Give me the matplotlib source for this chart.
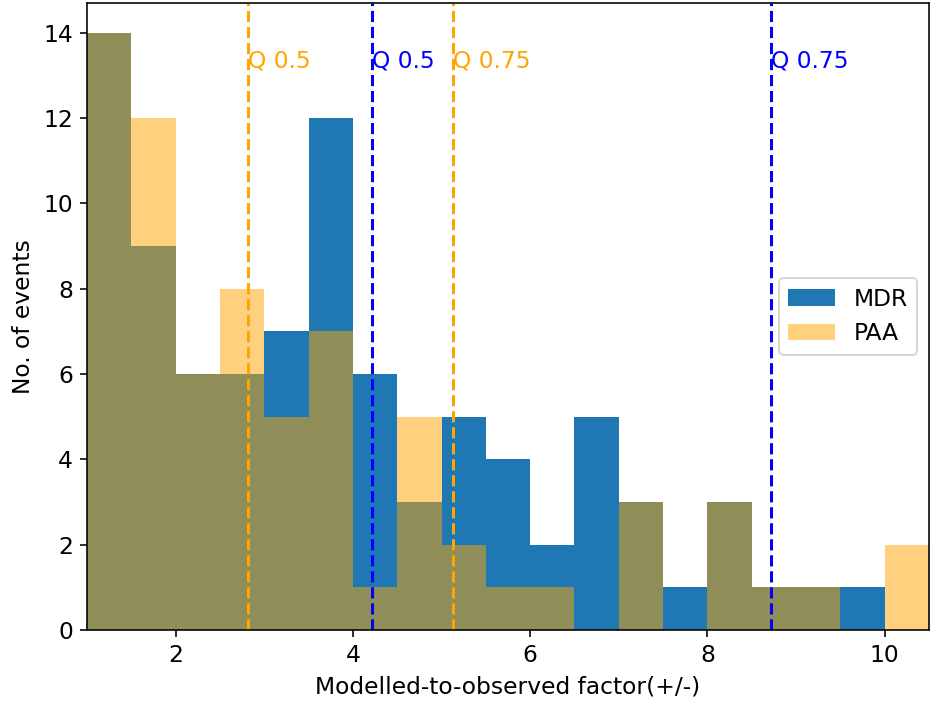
import numpy as np
import matplotlib
matplotlib.use("Agg")
import matplotlib.pyplot as plt

plt.rcParams["font.size"] = 11.6

# histogram bins (width 0.5) and counts
bin_edges = np.arange(1.0, 10.51, 0.5)
mdr_counts = [14, 9, 6, 6, 7, 12, 6, 3, 5, 4, 2, 5, 3, 1, 3, 1, 1, 1, 0]
paa_counts = [14, 12, 6, 8, 5, 7, 1, 5, 2, 1, 1, 0, 3, 0, 3, 1, 1, 0, 2]

# quantile lines
mdr_q = [4.22, 8.715]
paa_q = [2.816, 5.127]
q_labels = ["Q 0.5", "Q 0.75"]

fig = plt.figure(figsize=(930 / 145, 705 / 145), dpi=145)
ax = fig.add_axes([0.0935, 0.1064, 0.9055, 0.8893])

centers = bin_edges[:-1] + 0.25
ax.hist(centers, bins=bin_edges, weights=mdr_counts, color="C0", label="MDR")
ax.hist(centers, bins=bin_edges, weights=paa_counts, color="orange", alpha=0.5, label="PAA")

for q, lab in zip(paa_q, q_labels):
    ax.axvline(q, color="orange", linestyle="--")
    ax.text(q, 13.2, lab, color="orange")
for q, lab in zip(mdr_q, q_labels):
    ax.axvline(q, color="blue", linestyle="--")
    ax.text(q, 13.2, lab, color="blue")

ax.set_xlim(1, 10.5)
ax.set_xlabel("Modelled-to-observed factor(+/-)")
ax.set_ylabel("No. of events")
ax.legend(loc="center right")

fig.savefig("out.png", dpi=145)
